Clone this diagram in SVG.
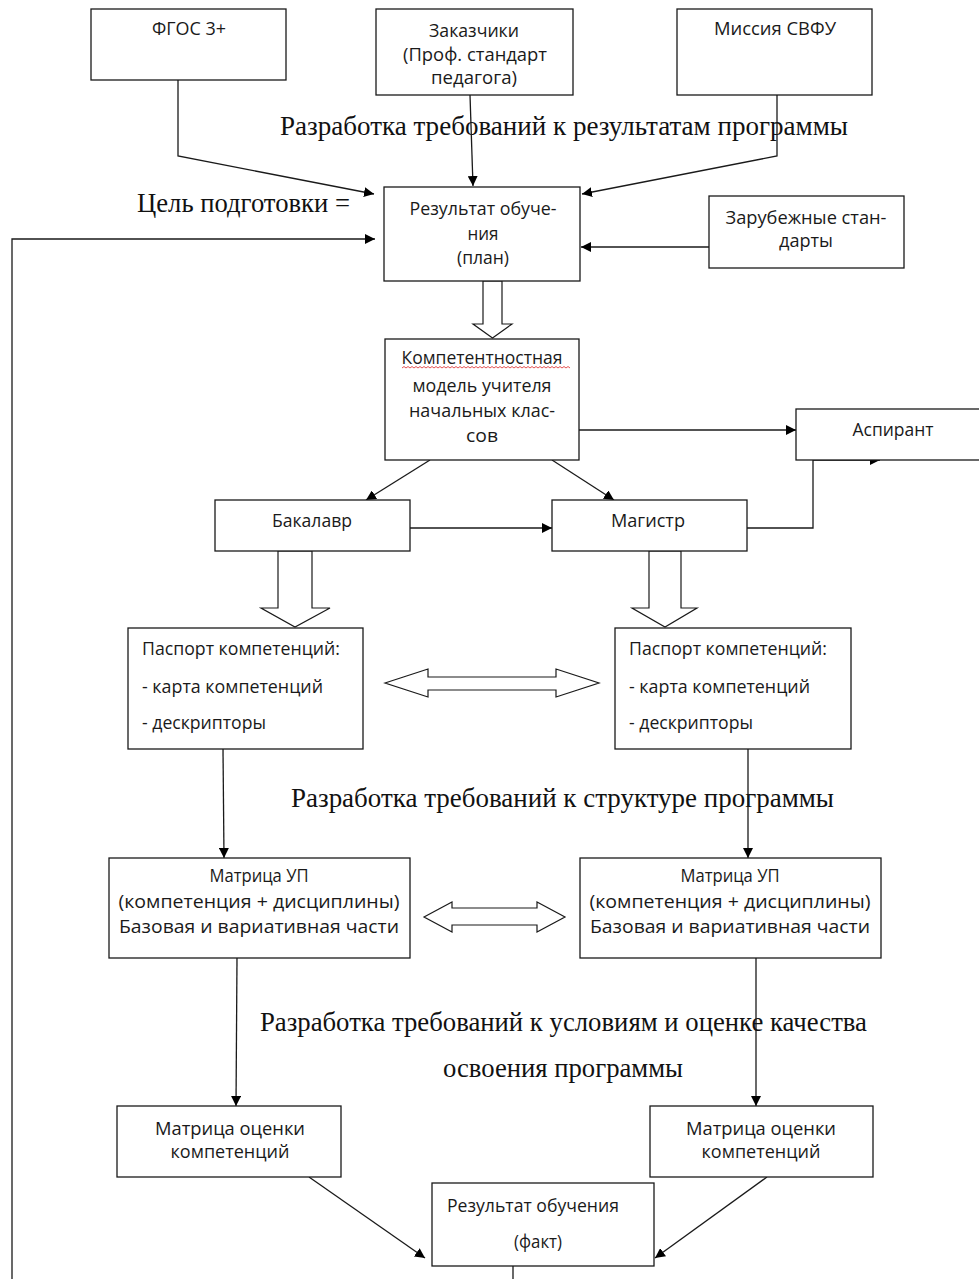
<svg xmlns="http://www.w3.org/2000/svg" width="979" height="1279" viewBox="0 0 979 1279">
<defs>
<style>
.box{fill:#fff;stroke:#1a1a1a;stroke-width:1.3}
.blk{fill:#fff;stroke:#1a1a1a;stroke-width:1.2}
.ln{fill:none;stroke:#1a1a1a;stroke-width:1.3}
.s{font-family:"Open Sans","Liberation Sans",sans-serif;font-size:18px;fill:#1a1a1a}
.c{text-anchor:middle}
.r{font-family:"Liberation Serif","Times New Roman",serif;font-size:27px;fill:#111}
</style>
<marker id="ah" viewBox="0 0 10 10" refX="10" refY="5" markerWidth="10" markerHeight="10" markerUnits="userSpaceOnUse" orient="auto">
<path d="M0,0 L10,5 L0,10 Z" fill="#000"/>
</marker>
</defs>
<rect width="979" height="1279" fill="#fff"/>

<g id="labels">
<text class="r" x="280" y="135" textLength="568" lengthAdjust="spacingAndGlyphs">Разработка требований к результатам программы</text>
<text class="r" x="137" y="212" textLength="213" lengthAdjust="spacingAndGlyphs">Цель подготовки =</text>
<text class="r" x="291" y="807" textLength="543" lengthAdjust="spacingAndGlyphs">Разработка требований к структуре программы</text>
<text class="r" x="260" y="1031" textLength="607" lengthAdjust="spacingAndGlyphs">Разработка требований к условиям и оценке качества</text>
<text class="r" x="443" y="1077" textLength="240" lengthAdjust="spacingAndGlyphs">освоения программы</text>
</g>

<g id="connectors">
<polyline class="ln" points="178,80 178,156 374,194" marker-end="url(#ah)"/>
<line class="ln" x1="470" y1="95" x2="473" y2="186" marker-end="url(#ah)"/>
<polyline class="ln" points="777,95 777,156 582,194" marker-end="url(#ah)"/>
<line class="ln" x1="709" y1="247" x2="581" y2="247" marker-end="url(#ah)"/>
<polyline class="ln" points="12,1279 12,239 375,239" marker-end="url(#ah)"/>
<line class="ln" x1="579" y1="430" x2="796" y2="430" marker-end="url(#ah)"/>
<line class="ln" x1="430" y1="460" x2="366" y2="500" marker-end="url(#ah)"/>
<line class="ln" x1="552" y1="460" x2="614" y2="500" marker-end="url(#ah)"/>
<line class="ln" x1="410" y1="528" x2="552" y2="528" marker-end="url(#ah)"/>
<polyline class="ln" points="747,528 813,528 813,460 880,460" marker-end="url(#ah)"/>
<line class="ln" x1="223" y1="749" x2="224" y2="858" marker-end="url(#ah)"/>
<line class="ln" x1="748" y1="749" x2="748" y2="858" marker-end="url(#ah)"/>
<line class="ln" x1="237" y1="958" x2="236" y2="1106" marker-end="url(#ah)"/>
<line class="ln" x1="756" y1="958" x2="756" y2="1106" marker-end="url(#ah)"/>
<line class="ln" x1="309" y1="1177" x2="425" y2="1258" marker-end="url(#ah)"/>
<line class="ln" x1="767" y1="1177" x2="655" y2="1258" marker-end="url(#ah)"/>
<line class="ln" x1="513" y1="1266" x2="513" y2="1279"/>
<polygon class="blk" points="483,281 502,281 502,324 512,324 492.5,338 473,324 483,324"/>
<polygon class="blk" points="278,551 312,551 312,608 330,608 295,627 261,608 278,608"/>
<polygon class="blk" points="649,551 681,551 681,608 697,608 665,627 632,608 649,608"/>
<polygon class="blk" points="385,683 428,669 428,677 556,677 556,669 599,683 556,697 556,690 428,690 428,697"/>
<polygon class="blk" points="424,917 452,902 452,908 537,908 537,902 565,917 537,932 537,925 452,925 452,932"/>
</g>

<g id="fgos">
<rect class="box" x="91" y="9" width="195" height="71"/>
<text class="s c" x="189" y="35" textLength="74" lengthAdjust="spacingAndGlyphs">ФГОС 3+</text>
</g>
<g id="zakazchiki">
<rect class="box" x="376" y="9" width="197" height="86"/>
<text class="s c" x="474" y="37" textLength="90" lengthAdjust="spacingAndGlyphs">Заказчики</text>
<text class="s c" x="475" y="61" textLength="144" lengthAdjust="spacingAndGlyphs">(Проф. стандарт</text>
<text class="s c" x="474" y="84" textLength="86" lengthAdjust="spacingAndGlyphs">педагога)</text>
</g>
<g id="missiya">
<rect class="box" x="677" y="9" width="195" height="86"/>
<text class="s c" x="775" y="35" textLength="122" lengthAdjust="spacingAndGlyphs">Миссия СВФУ</text>
</g>
<g id="rezultat-plan">
<rect class="box" x="384" y="187" width="196" height="94"/>
<text class="s c" x="483" y="215" textLength="147" lengthAdjust="spacingAndGlyphs">Результат обуче-</text>
<text class="s c" x="483" y="240" textLength="31" lengthAdjust="spacingAndGlyphs">ния</text>
<text class="s c" x="483" y="264" textLength="52" lengthAdjust="spacingAndGlyphs">(план)</text>
</g>
<g id="zarubezhnye">
<rect class="box" x="709" y="196" width="195" height="72"/>
<text class="s c" x="806" y="224" textLength="161" lengthAdjust="spacingAndGlyphs">Зарубежные стан-</text>
<text class="s c" x="806" y="247" textLength="54" lengthAdjust="spacingAndGlyphs">дарты</text>
</g>
<g id="kompetentnostnaya">
<rect class="box" x="385" y="339" width="194" height="121"/>
<text class="s c" x="482" y="364" textLength="161" lengthAdjust="spacingAndGlyphs">Компетентностная</text>
<path d="M402,368 l2,-1.5 l2,1.5 l2,-1.5 l2,1.5 l2,-1.5 l2,1.5 l2,-1.5 l2,1.5 l2,-1.5 l2,1.5 l2,-1.5 l2,1.5 l2,-1.5 l2,1.5 l2,-1.5 l2,1.5 l2,-1.5 l2,1.5 l2,-1.5 l2,1.5 l2,-1.5 l2,1.5 l2,-1.5 l2,1.5 l2,-1.5 l2,1.5 l2,-1.5 l2,1.5 l2,-1.5 l2,1.5 l2,-1.5 l2,1.5 l2,-1.5 l2,1.5 l2,-1.5 l2,1.5 l2,-1.5 l2,1.5 l2,-1.5 l2,1.5 l2,-1.5 l2,1.5 l2,-1.5 l2,1.5 l2,-1.5 l2,1.5 l2,-1.5 l2,1.5 l2,-1.5 l2,1.5 l2,-1.5 l2,1.5 l2,-1.5 l2,1.5 l2,-1.5 l2,1.5 l2,-1.5 l2,1.5 l2,-1.5 l2,1.5 l2,-1.5 l2,1.5 l2,-1.5 l2,1.5 l2,-1.5 l2,1.5 l2,-1.5 l2,1.5 l2,-1.5 l2,1.5 l2,-1.5 l2,1.5 l2,-1.5 l2,1.5 l2,-1.5 l2,1.5 l2,-1.5 l2,1.5 l2,-1.5 l2,1.5 l2,-1.5 l2,1.5 l2,-1.5 l2,1.5" fill="none" stroke="#e04040" stroke-width="0.9"/>
<text class="s c" x="482" y="392" textLength="139" lengthAdjust="spacingAndGlyphs">модель учителя</text>
<text class="s c" x="482" y="417" textLength="146" lengthAdjust="spacingAndGlyphs">начальных клас-</text>
<text class="s c" x="482" y="442" textLength="32" lengthAdjust="spacingAndGlyphs">сов</text>
</g>
<g id="aspirant">
<rect class="box" x="796" y="409" width="200" height="51"/>
<text class="s c" x="893" y="436" textLength="81" lengthAdjust="spacingAndGlyphs">Аспирант</text>
</g>
<g id="bakalavr">
<rect class="box" x="215" y="500" width="195" height="51"/>
<text class="s c" x="312" y="527" textLength="80" lengthAdjust="spacingAndGlyphs">Бакалавр</text>
</g>
<g id="magistr">
<rect class="box" x="552" y="500" width="195" height="51"/>
<text class="s c" x="648" y="527" textLength="74" lengthAdjust="spacingAndGlyphs">Магистр</text>
</g>
<g id="pasport-left">
<rect class="box" x="128" y="628" width="235" height="121"/>
<text class="s" x="142" y="655" textLength="198" lengthAdjust="spacingAndGlyphs">Паспорт компетенций:</text>
<text class="s" x="142" y="693" textLength="181" lengthAdjust="spacingAndGlyphs">- карта компетенций</text>
<text class="s" x="142" y="729" textLength="124" lengthAdjust="spacingAndGlyphs">- дескрипторы</text>
</g>
<g id="pasport-right">
<rect class="box" x="615" y="628" width="236" height="121"/>
<text class="s" x="629" y="655" textLength="198" lengthAdjust="spacingAndGlyphs">Паспорт компетенций:</text>
<text class="s" x="629" y="693" textLength="181" lengthAdjust="spacingAndGlyphs">- карта компетенций</text>
<text class="s" x="629" y="729" textLength="124" lengthAdjust="spacingAndGlyphs">- дескрипторы</text>
</g>
<g id="matrica-up-left">
<rect class="box" x="109" y="858" width="301" height="100"/>
<text class="s c" x="259" y="882" textLength="99" lengthAdjust="spacingAndGlyphs">Матрица УП</text>
<text class="s c" x="259" y="908" textLength="281" lengthAdjust="spacingAndGlyphs">(компетенция + дисциплины)</text>
<text class="s c" x="259" y="933" textLength="280" lengthAdjust="spacingAndGlyphs">Базовая и вариативная части</text>
</g>
<g id="matrica-up-right">
<rect class="box" x="580" y="858" width="301" height="100"/>
<text class="s c" x="730" y="882" textLength="99" lengthAdjust="spacingAndGlyphs">Матрица УП</text>
<text class="s c" x="730" y="908" textLength="281" lengthAdjust="spacingAndGlyphs">(компетенция + дисциплины)</text>
<text class="s c" x="730" y="933" textLength="280" lengthAdjust="spacingAndGlyphs">Базовая и вариативная части</text>
</g>
<g id="ocenka-left">
<rect class="box" x="117" y="1106" width="224" height="71"/>
<text class="s c" x="230" y="1135" textLength="150" lengthAdjust="spacingAndGlyphs">Матрица оценки</text>
<text class="s c" x="230" y="1158" textLength="119" lengthAdjust="spacingAndGlyphs">компетенций</text>
</g>
<g id="ocenka-right">
<rect class="box" x="650" y="1106" width="223" height="71"/>
<text class="s c" x="761" y="1135" textLength="150" lengthAdjust="spacingAndGlyphs">Матрица оценки</text>
<text class="s c" x="761" y="1158" textLength="119" lengthAdjust="spacingAndGlyphs">компетенций</text>
</g>
<g id="rezultat-fakt">
<rect class="box" x="432" y="1183" width="222" height="83"/>
<text class="s" x="447" y="1212" textLength="172" lengthAdjust="spacingAndGlyphs">Результат обучения</text>
<text class="s c" x="538" y="1248" textLength="48" lengthAdjust="spacingAndGlyphs">(факт)</text>
</g>
</svg>
